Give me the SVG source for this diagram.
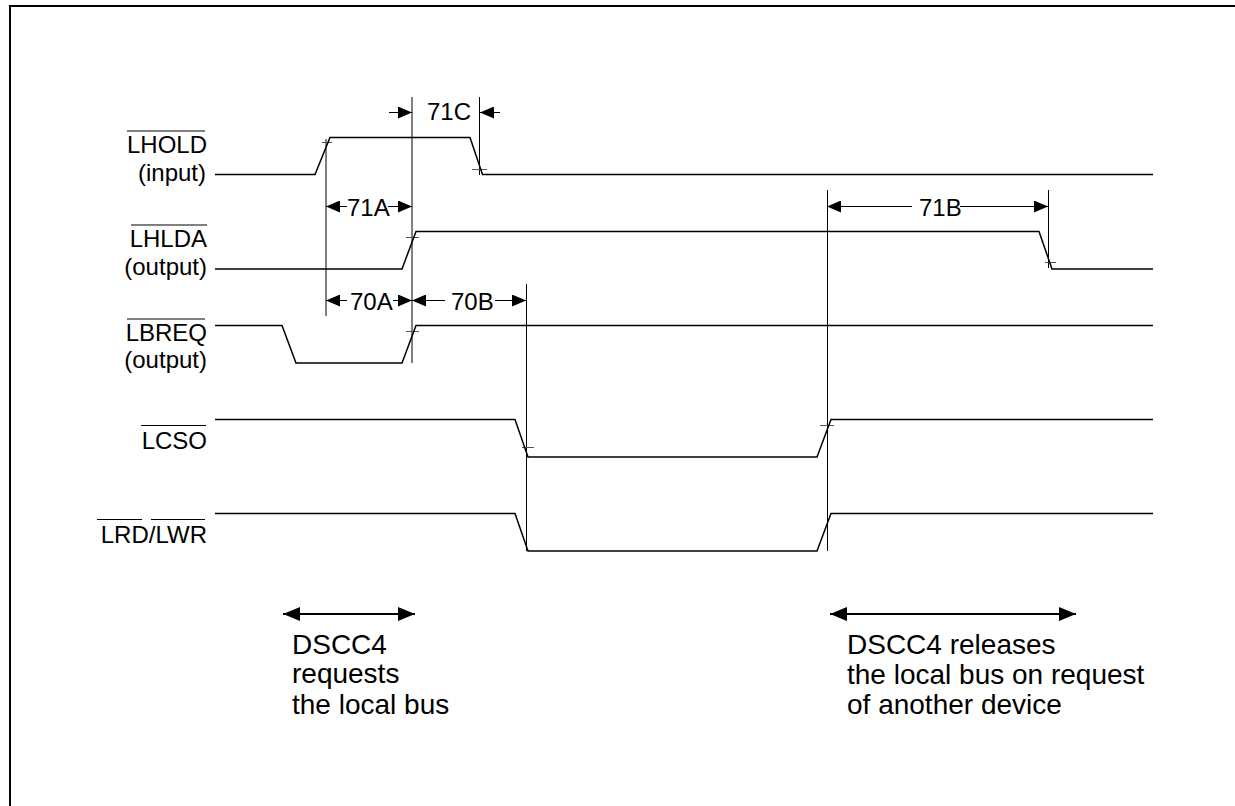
<svg xmlns="http://www.w3.org/2000/svg" width="1235" height="806" viewBox="0 0 1235 806">
<defs>
<marker id="h" viewBox="0 0 14 12" refX="14" refY="6" markerWidth="14" markerHeight="12" markerUnits="userSpaceOnUse" orient="auto-start-reverse"><path d="M0 0L14 6L0 12Z" fill="#000"/></marker>
<marker id="H" viewBox="0 0 17 14" refX="17" refY="7" markerWidth="17" markerHeight="14" markerUnits="userSpaceOnUse" orient="auto-start-reverse"><path d="M0 0L17 7L0 14Z" fill="#000"/></marker>
</defs>
<style>
text{font-family:"Liberation Sans",Arial,sans-serif;font-size:24px;fill:#000}
.n{font-size:28px}
.r{text-anchor:end}
.w{fill:none;stroke:#000;stroke-width:1.5}
.t{fill:none;stroke:#000;stroke-width:1}
.g{fill:none;stroke:#555;stroke-width:1}
.d{fill:none;stroke:#000;stroke-width:1;marker-end:url(#h)}
.b{fill:none;stroke:#000;stroke-width:2;marker-start:url(#H);marker-end:url(#H)}
</style>
<rect width="1235" height="806" fill="#fff"/>
<path d="M10 806V6H1235" fill="none" stroke="#000" stroke-width="2"/>
<g id="connectors">
<path class="t" d="M326 139V316M412 97V363M479.500 97V175M526.500 284V551M827.500 190V551M1048.500 190V268"/>
<path class="g" d="M322 142.500H332M472 169.500H487M406 237.500H419M406 331.500H419M1045 262.500H1056M820 425.500H834M522 447.500H534"/>
<path class="d" d="M389 112.500H412"/><path class="d" d="M500 112.500H480"/>
<path class="d" d="M347 206.500H326"/><path class="d" d="M388 206.500H412"/>
<path class="d" d="M347 300.500H326"/><path class="d" d="M393 300.500H412"/>
<path class="d" d="M445 300.500H412"/><path class="d" d="M495 300.500H526"/>
<path class="d" d="M912 206.500H827"/><path class="d" d="M960 206.500H1048"/>
<path class="b" d="M283 614H415"/><path class="b" d="M830 614H1076"/>
</g>
<g id="lhold"><path class="w" d="M215 174.500H315L330 137.500H470L482.500 174.500H1153"/><path class="t" d="M127 131H205"/><text class="r" x="207" y="153">LHOLD</text><text class="r" x="206" y="181">(input)</text></g>
<g id="lhlda"><path class="w" d="M215 269H402L416 231.500H1039L1052 269H1153"/><path class="t" d="M131 225H207"/><text class="r" x="207" y="247">LHLDA</text><text class="r" x="207" y="275">(output)</text></g>
<g id="lbreq"><path class="w" d="M215 325.500H282L296 363H402L416 325.500H1153"/><path class="t" d="M127 319H205"/><text class="r" x="207" y="341">LBREQ</text><text class="r" x="207" y="368">(output)</text></g>
<g id="lcso"><path class="w" d="M215 419.500H515L528 457H817L831 419.500H1153"/><path class="t" d="M141 425.500H206"/><text class="r" x="207" y="449">LCSO</text></g>
<g id="lrdlwr"><path class="w" d="M215 513.500H515L528 551H817L831 513.500H1153"/><path class="t" d="M97 519.500H142M151 519.500H205"/><text class="r" x="207" y="543">LRD/LWR</text></g>
<g id="labels">
<text x="427" y="120">71C</text><text x="347" y="216">71A</text><text x="350" y="310">70A</text><text x="451" y="310">70B</text><text x="919" y="216">71B</text>
<text class="n" x="292" y="654">DSCC4</text><text class="n" x="292" y="683">requests</text><text class="n" x="292" y="714">the local bus</text>
<text class="n" x="847" y="654">DSCC4 releases</text><text class="n" x="847" y="684">the local bus on request</text><text class="n" x="847" y="714">of another device</text>
</g>
</svg>
